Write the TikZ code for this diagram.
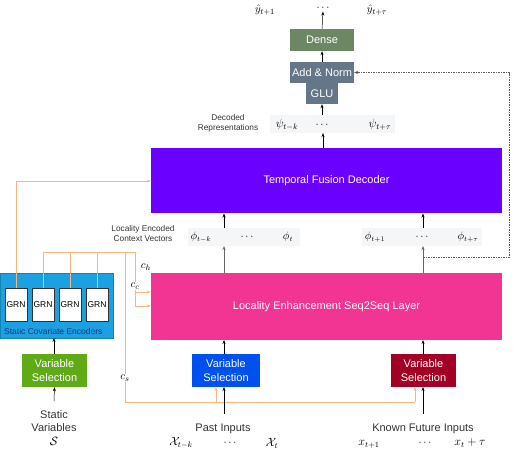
\documentclass[tikz,border=0pt]{standalone}
\usepackage{fontspec}
\setmainfont{Liberation Sans}
\usetikzlibrary{arrows.meta}
\definecolor{cdense}{HTML}{6D8764}
\definecolor{cslate}{HTML}{647687}
\definecolor{cviolet}{HTML}{6A00FF}
\definecolor{cpink}{HTML}{F23593}
\definecolor{ccyan}{HTML}{1BA1E2}
\definecolor{cgreen}{HTML}{60A917}
\definecolor{cblue}{HTML}{0050EF}
\definecolor{cred}{HTML}{A20025}
\definecolor{corange}{HTML}{F7B67E}
\definecolor{cband}{HTML}{F4F6F8}
\definecolor{cnavy}{HTML}{123A7A}
\definecolor{ctext}{HTML}{333333}
\tikzset{
  blk/.style={rectangle, inner sep=0pt, text=white, font=\fontsize{11}{13}\selectfont, align=center},
  vsel/.style={blk, minimum height=33pt, font=\fontsize{11}{13.5}\selectfont},
  band/.style={rectangle, fill=cband, inner sep=0pt, minimum height=18pt},
  grn/.style={rectangle, draw=black!80, fill=white, line width=0.6pt, minimum width=22pt, minimum height=33pt, inner sep=0pt, font=\fontsize{8.5}{10}\selectfont},
  lbl/.style={font=\fontsize{8.3}{10}\selectfont, text=ctext, align=center, inner sep=1pt},
  inlbl/.style={font=\fontsize{11}{13}\selectfont, text=ctext, align=center, inner sep=1pt},
  mth/.style={inner sep=1pt, font=\fontsize{10.5}{12}\selectfont},
  bmth/.style={inner sep=1pt, font=\fontsize{12}{14}\selectfont},
  arr/.style={-{Stealth[length=4pt,width=3pt]}, line width=0.5pt, black},
  garr/.style={-{Stealth[length=4pt,width=3pt]}, line width=0.6pt, black!60},
  oline/.style={corange, line width=0.7pt},
  oarr/.style={corange, line width=0.7pt, -{Stealth[length=4pt,width=3pt]}},
  dsh/.style={black!65, line width=0.5pt, dash pattern=on 1.5pt off 1pt, -{Stealth[length=4pt,width=3pt]}},
  clbl/.style={fill=white, inner sep=0.5pt, font=\fontsize{11}{13}\selectfont},
}
\begin{document}
\begin{tikzpicture}[x=1pt,y=-1pt]
\useasboundingbox (0,0) rectangle (513,450);

% output labels
\node[mth, font=\fontsize{11}{13}\selectfont] (y1) at (265,10) {$\hat{y}_{t+1}$};
\node[mth] (yd) at (323,8) {$\cdots$};
\node[mth, font=\fontsize{11}{13}\selectfont] (y2) at (377,10) {$\hat{y}_{t+\tau}$};

% top stack
\node[blk, fill=cdense, minimum width=64pt, minimum height=22pt] (dense) at (322,40) {Dense};
\node[blk, fill=cslate, minimum width=64pt, minimum height=21pt] (addnorm) at (322,72.5) {Add \& Norm};
\node[blk, fill=cslate, minimum width=32pt, minimum height=21pt] (glu) at (322,93.5) {GLU};

\draw[arr] (dense.north) -- (yd.south);
\draw[arr] (addnorm.north) -- (dense.south);

% decoded representations
\node[band, minimum width=125pt] (psiband) at (332,124) {};
\node[bmth] (psi1) at (287,125) {$\psi_{t-k}$};
\node[mth] (psid) at (322,125) {$\cdots$};
\node[bmth] (psi2) at (380,125) {$\psi_{t+\tau}$};
\node[lbl] (declbl) at (228,123) {Decoded\\Representations};
\draw[arr] (322,115) -- (glu.south);

% temporal fusion decoder
\node[blk, fill=cviolet, minimum width=351pt, minimum height=65pt] (tfd) at (326.5,180.5) {Temporal Fusion Decoder};
\draw[arr] (323,147.5) -- (323,133);

% phi bands
\node[band, minimum width=112pt] (phiL) at (244,237) {};
\node[band, minimum width=120pt] (phiR) at (422,237) {};
\node[mth] (phi1) at (201,237) {$\phi_{t-k}$};
\node[mth] (phid1) at (247,237) {$\cdots$};
\node[mth] (phi2) at (288,237) {$\phi_{t}$};
\node[mth] (phi3) at (375,237) {$\phi_{t+1}$};
\node[mth] (phid2) at (422,237) {$\cdots$};
\node[mth] (phi4) at (468,237) {$\phi_{t+\tau}$};
\node[lbl] (lecv) at (143,234) {Locality Encoded\\Context Vectors};

% locality layer
\node[blk, fill=cpink, minimum width=351pt, minimum height=67pt] (loc) at (326.5,306.5) {Locality Enhancement Seq2Seq Layer};

\draw[arr] (224,228) -- (224,213.5);
\draw[arr] (423,228) -- (423,213.5);
\draw[garr] (224,273) -- (224,246);
\draw[garr] (423,273) -- (423,246);

% dashed skip
\coordinate (dsA) at (423,257);
\coordinate (dsB) at (509,257);
\coordinate (dsC) at (509,72.5);
\draw[dsh] (dsA) -- (dsB) -- (dsC) -- (addnorm.east);

% static covariate encoders
\node[rectangle, fill=ccyan, draw=ccyan!80!black, line width=0.4pt, minimum width=113pt, minimum height=65pt, inner sep=0pt] (sce) at (56.5,305.5) {};
\node[grn] (g1) at (16,304.5) {GRN};
\node[grn] (g2) at (43,304.5) {GRN};
\node[grn] (g3) at (70,304.5) {GRN};
\node[grn] (g4) at (97,304.5) {GRN};
\node[anchor=west, inner sep=0pt, text=cnavy, font=\fontsize{8.5}{10}\selectfont] (scelbl) at (4,331) {Static Covariate Encoders};

% orange context lines
\coordinate (o1) at (16,181);
\draw[oarr] (g1.north) -- (o1) -- (tfd.west |- o1);
\coordinate (hA) at (43,252);
\coordinate (hB) at (135,252);
\draw[oline] (g2.north) -- (hA) -- (hB);
\draw[oline] (g3.north) -- (70,252);
\draw[oline] (g4.north) -- (97,252);
\coordinate (cc1) at (135,292);
\coordinate (cc2) at (135,306);
\draw[oline] (hB) -- (cc2);
\draw[oarr] (cc1) -- (loc.west |- cc1);
\draw[oarr] (cc2) -- (loc.west |- cc2);
\coordinate (cs1) at (125,252);
\coordinate (cs2) at (125,402);
\coordinate (cs3) at (415,402);
\draw[oline] (cs1) -- (cs2) -- (cs3);

% variable selection boxes
\node[vsel, fill=cgreen, minimum width=65pt] (vsS) at (54.5,370.5) {Variable\\Selection};
\node[vsel, fill=cblue, minimum width=68pt] (vsP) at (226,370.5) {Variable\\Selection};
\node[vsel, fill=cred, minimum width=65pt] (vsF) at (423.5,370.5) {Variable\\Selection};

\draw[oarr] (216,402) -- (216,387);
\draw[oarr] (cs3) -- (415,387);

% labels on context lines
\node[clbl] (ch) at (146,267) {$c_h$};
\node[clbl] (ccl) at (135,286) {$c_c$};
\node[clbl] (csl) at (125,378) {$c_s$};

\draw[arr] (54,354) -- (54,338);
\draw[arr] (224,354) -- (224,340);
\draw[arr] (423,354) -- (423,340);

% inputs
\node[inlbl] (sv) at (54,421) {Static\\Variables};
\node[bmth] (svS) at (54,441) {$\mathcal{S}$};
\draw[arr] (54,401) -- (vsS.south);

\node[inlbl] (past) at (223,429) {Past Inputs};
\node[bmth] (x1) at (181,443) {$\mathcal{X}_{t-k}$};
\node[mth] (xd1) at (230,443) {$\cdots$};
\node[bmth] (x2) at (272,443) {$\mathcal{X}_{t}$};
\draw[arr] (224,414) -- (224,387);

\node[inlbl] (known) at (423,429) {Known Future Inputs};
\node[bmth] (f1) at (369,444) {$x_{t+1}$};
\node[mth] (fd) at (425,443) {$\cdots$};
\node[bmth] (f2) at (470,443) {$x_{t}+\tau$};
\draw[arr] (423,414) -- (423,387);
\end{tikzpicture}
\end{document}
